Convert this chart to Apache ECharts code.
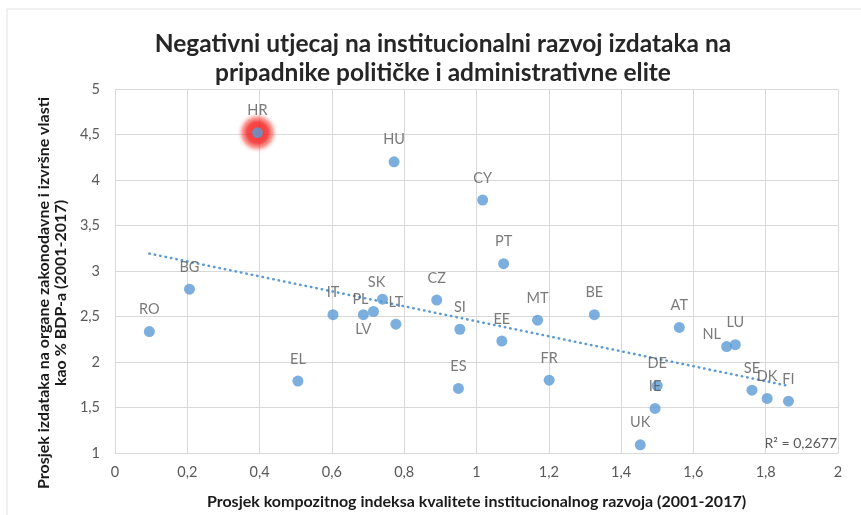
<!DOCTYPE html>
<html>
<head>
<meta charset="utf-8">
<script src="https://cdn.jsdelivr.net/npm/echarts@6/dist/echarts.min.js"></script>
<style>
  html, body { margin: 0; padding: 0; background: #fff; }
  #chart { width: 861px; height: 515px; }
</style>
</head>
<body>
<div id="chart"></div>
<script>
// country codes and values
const countries = ["HR", "HU", "CY", "PT", "BG", "RO", "IT", "LV", "PL", "SK", "LT", "CZ", "SI", "EL", "ES",
    "EE", "MT", "BE", "FR", "AT", "NL", "LU", "DE", "IE", "UK", "SE", "DK", "FI"];
const qualityIndex = [0.394, 0.772, 1.017, 1.075, 0.206, 0.095, 0.603, 0.687, 0.715, 0.740, 0.777, 0.890, 0.954, 0.506, 0.950,
    1.070, 1.169, 1.326, 1.201, 1.561, 1.692, 1.716, 1.500, 1.494, 1.453, 1.762, 1.804, 1.863];
const spending = [4.52, 4.20, 3.78, 3.08, 2.80, 2.335, 2.52, 2.52, 2.555, 2.69, 2.415, 2.68, 2.36, 1.79, 1.71,
    2.23, 2.46, 2.52, 1.80, 2.38, 2.17, 2.19, 1.74, 1.49, 1.09, 1.69, 1.60, 1.57];
const highlighted = "HR";
const rSquared = "0,2677";

const labelFont = "Lato, 'Open Sans', sans-serif";

// hand-placed labels (like in the original excel chart)
const labelTweaks = {
    LV: { position: "bottom", distance: 2 },
    PL: { offset: [-13, 10] },
    SK: { offset: [-6, 5] },
    NL: { offset: [-15, 10] },
};

const points = countries.map((c, i) => {
    const p = { name: c, value: [qualityIndex[i], spending[i]] };
    if (labelTweaks[c]) p.label = labelTweaks[c];
    return p;
});

// linear trend, least squares
const n = qualityIndex.length;
const mx = qualityIndex.reduce((a, b) => a + b, 0) / n;
const my = spending.reduce((a, b) => a + b, 0) / n;
let sxy = 0, sxx = 0;
for (let i = 0; i < n; i++) {
    sxy += (qualityIndex[i] - mx) * (spending[i] - my);
    sxx += (qualityIndex[i] - mx) * (qualityIndex[i] - mx);
}
const slope = sxy / sxx;
const icpt = my - slope * mx;
const xMin = Math.min(...qualityIndex);
const xMax = Math.max(...qualityIndex);
const trend = [[xMin, icpt + slope * xMin], [xMax, icpt + slope * xMax]];

const hi = countries.indexOf(highlighted);

const comma = (v) => String(v).replace(".", ",");
const gridColor = "#d9d9d9";

const myChart = echarts.init(document.getElementById("chart"));

const option = {
    animation: false,
    textStyle: { fontFamily: labelFont },
    title: {
        text: "Negativni utjecaj na institucionalni razvoj izdataka na\npripadnike političke i administrativne elite",
        left: 438,
        textAlign: "center",
        top: 25,
        textStyle: {
            fontFamily: labelFont,
            fontSize: 24.5,
            fontWeight: "bold",
            color: "#262626",
            lineHeight: 29,
        },
    },
    graphic: [
        {
            type: "rect",
            shape: { x: 7, y: 9, width: 900, height: 600 },
            style: { fill: "none", stroke: "#e3e3e3", lineWidth: 1 },
            silent: true,
            z: -1,
        },
        {
            type: "text",
            right: 24,
            top: 436,
            style: {
                text: "R² = " + rSquared,
                fill: "#595959",
                font: "14px " + labelFont,
            },
        },
    ],
    grid: { left: 115, right: 23, top: 89, bottom: 62 },
    xAxis: {
        type: "value",
        min: 0,
        max: 2,
        interval: 0.2,
        name: "Prosjek kompozitnog indeksa kvalitete institucionalnog razvoja (2001-2017)",
        nameLocation: "middle",
        nameGap: 41,
        nameTextStyle: { fontSize: 16, fontWeight: "bold", color: "#1a1a1a" },
        axisLine: { lineStyle: { color: gridColor } },
        axisTick: { show: false },
        axisLabel: { color: "#595959", fontSize: 14.5, margin: 12, formatter: comma },
        splitLine: { lineStyle: { color: gridColor } },
    },
    yAxis: {
        type: "value",
        min: 1,
        max: 5,
        interval: 0.5,
        name: "Prosjek izdataka na organe zakonodavne i izvršne vlasti\nkao % BDP-a (2001-2017)",
        nameLocation: "middle",
        nameGap: 44,
        nameTextStyle: {
            fontSize: 16, fontWeight: "bold", color: "#1a1a1a", lineHeight: 17,
            padding: [0, 44, 0, 0], // pushes the title a bit down like in excel
        },
        axisLine: { show: false },
        axisTick: { show: false },
        axisLabel: { color: "#595959", fontSize: 14.5, margin: 15, formatter: comma },
        splitLine: { lineStyle: { color: gridColor } },
    },
    series: [
        {
            // red glow behind the highlighted country
            type: "scatter",
            symbolSize: 42,
            silent: true,
            z: 1,
            itemStyle: {
                color: {
                    type: "radial", x: 0.5, y: 0.5, r: 0.5,
                    colorStops: [
                        { offset: 0, color: "#ff0000" },
                        { offset: 0.5, color: "#f41c1c" },
                        { offset: 0.72, color: "rgba(245,60,50,0.6)" },
                        { offset: 1, color: "rgba(255,255,255,0)" },
                    ],
                },
            },
            data: [[qualityIndex[hi], spending[hi]]],
        },
        {
            type: "line",
            data: trend,
            symbol: "none",
            z: 2,
            lineStyle: { color: "#5b9bd5", width: 2.5, type: [0.5, 5], cap: "round" },
        },
        {
            type: "scatter",
            symbolSize: 11,
            z: 3,
            itemStyle: { color: "#5b9bd5" },
            label: {
                show: true,
                position: "top",
                distance: 9,
                formatter: (p) => p.name,
                color: "#595959",
                fontSize: 14.5,
            },
            data: points,
        },
    ],
};

option && myChart.setOption(option);
</script>
</body>
</html>
